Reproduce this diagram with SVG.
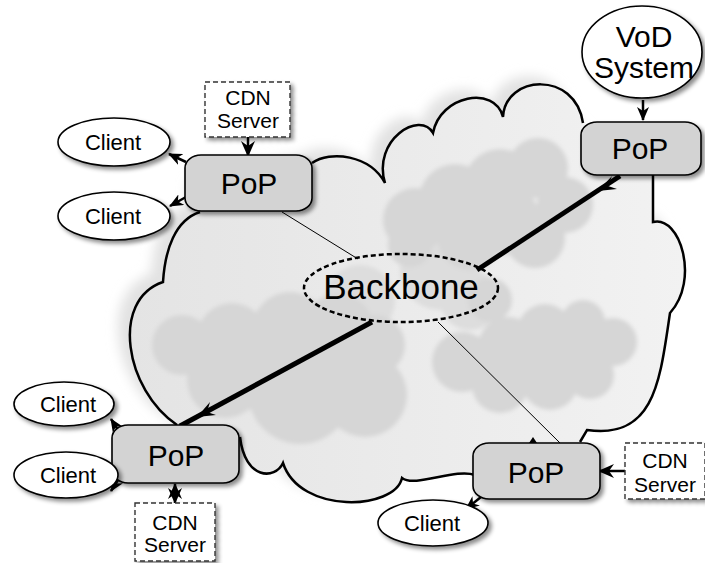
<svg xmlns="http://www.w3.org/2000/svg" width="705" height="563" viewBox="0 0 705 563">
<style>
text{font-family:"Liberation Sans",Arial,sans-serif;fill:#000;text-anchor:middle}
.pop{fill:#d3d3d3;stroke:#000;stroke-width:1.6}
.cli{fill:#fff;stroke:#000;stroke-width:1.6}
.cdn{fill:#fff;stroke:#333;stroke-width:1.4;stroke-dasharray:5 3}
.inner{fill:#d6d6d6}
.inner2{fill:#dddddd}
.thin{stroke:#000;stroke-width:1;fill:none}
.thick{stroke:#000;stroke-width:5;fill:none}
.arr{stroke:#000;stroke-width:2.5;fill:none}
</style>
<defs>
<linearGradient id="cg" x1="0" y1="0" x2="1" y2="0">
<stop offset="0" stop-color="#e4e4e4"/>
<stop offset="1" stop-color="#f2f2f2"/>
</linearGradient>
<filter id="sh" x="-20%" y="-20%" width="140%" height="150%">
<feDropShadow dx="3" dy="3" stdDeviation="2" flood-color="#000" flood-opacity="0.45"/>
</filter>
<filter id="blur" x="-10%" y="-10%" width="120%" height="120%">
<feGaussianBlur stdDeviation="2"/>
</filter>
<filter id="blur2" x="-10%" y="-10%" width="120%" height="120%">
<feGaussianBlur stdDeviation="6"/>
</filter>
<marker id="ah" viewBox="0 0 14 12" refX="13" refY="6" markerWidth="14" markerHeight="12" markerUnits="userSpaceOnUse" orient="auto-start-reverse">
<path d="M0,0 L14,6 L0,12 L4,6 z" fill="#000"/>
</marker>
<marker id="ahb" viewBox="0 0 16 14" refX="15" refY="7" markerWidth="16" markerHeight="14" markerUnits="userSpaceOnUse" orient="auto-start-reverse">
<path d="M0,0 L16,7 L0,14 L5,7 z" fill="#000"/>
</marker>
</defs>

<g id="cloud">
<path id="cloudShadow" d="M300,165 L312,163 C330,150 370,155 385,183 C372,140 420,110 433,133 C440,95 495,85 503,117 C505,75 575,70 583,123 L600,140 L653,175 L653,222 C680,215 700,280 670,313 C660,380 655,440 587,430 L580,442 L540,470 L475,475 C455,468 415,488 402,478 C395,510 300,515 283,463 C275,480 245,480 240,437 L200,440 L177,425 C125,390 110,300 163,282 C165,250 175,220 200,212 L200,190 Z" fill="#e2e2e2" filter="url(#blur2)" transform="translate(-12,-8)"/>
<path d="M300,165 L312,163 C330,150 370,155 385,183 C372,140 420,110 433,133 C440,95 495,85 503,117 C505,75 575,70 583,123 L600,140 L653,175 L653,222 C680,215 700,280 670,313 C660,380 655,440 587,430 L580,442 L540,470 L475,475 C455,468 415,488 402,478 C395,510 300,515 283,463 C275,480 245,480 240,437 L200,440 L177,425 C125,390 110,300 163,282 C165,250 175,220 200,212 L200,190 Z" fill="url(#cg)" stroke="none"/>
<g filter="url(#blur)">
<g class="inner2">
<circle cx="440" cy="270" r="40"/>
<circle cx="360" cy="300" r="35"/>
<circle cx="470" cy="300" r="30"/>
</g>
<g class="inner">
<circle cx="415" cy="220" r="32"/>
<circle cx="455" cy="200" r="36"/>
<circle cx="500" cy="185" r="36"/>
<circle cx="538" cy="168" r="30"/>
<circle cx="565" cy="205" r="28"/>
<circle cx="470" cy="238" r="32"/>
<circle cx="535" cy="238" r="30"/>
<circle cx="505" cy="220" r="35"/>
<circle cx="410" cy="245" r="22"/>
<circle cx="182" cy="345" r="30"/>
<circle cx="232" cy="338" r="35"/>
<circle cx="290" cy="330" r="38"/>
<circle cx="338" cy="330" r="36"/>
<circle cx="375" cy="345" r="30"/>
<circle cx="300" cy="392" r="52"/>
<circle cx="225" cy="380" r="38"/>
<circle cx="365" cy="395" r="42"/>
<circle cx="260" cy="370" r="40"/>
<circle cx="490" cy="300" r="22"/>
<circle cx="462" cy="362" r="30"/>
<circle cx="508" cy="347" r="30"/>
<circle cx="545" cy="332" r="28"/>
<circle cx="583" cy="322" r="22"/>
<circle cx="613" cy="342" r="24"/>
<circle cx="590" cy="375" r="24"/>
<circle cx="500" cy="385" r="28"/>
<circle cx="550" cy="382" r="28"/>
<circle cx="575" cy="352" r="28"/>
<circle cx="530" cy="365" r="30"/>
</g>
</g>
<path d="M312,163 C330,150 370,155 385,183 C372,140 420,110 433,133 C440,95 495,85 503,117 C505,75 575,70 583,123" fill="none" stroke="#000" stroke-width="2.5"/>
<path d="M653,175 L653,222 C680,215 700,280 670,313 C660,380 655,440 587,430 L580,442" fill="none" stroke="#000" stroke-width="2.5"/>
<path d="M475,475 C455,468 415,488 402,478 C395,510 300,515 283,463 C275,480 245,480 240,437" fill="none" stroke="#000" stroke-width="2.5"/>
<path d="M177,425 C125,390 110,300 163,282 C165,250 175,220 200,212" fill="none" stroke="#000" stroke-width="2.5"/>
</g>

<g id="connectors">
<line class="thin" x1="282" y1="212" x2="358" y2="259"/>
<line class="thin" x1="438" y1="322" x2="560" y2="443"/>
<line class="thick" x1="620" y1="176" x2="477" y2="270"/>
<path d="M598,191 L612,176 L608,186 L617,189 Z" fill="#000"/>
<line class="thick" x1="372" y1="322" x2="180" y2="426"/>
<path d="M197,417 L210,402 L207,412 L216,415 Z" fill="#000"/>
<line class="arr" x1="643" y1="100" x2="643" y2="120" marker-end="url(#ah)"/>
<line class="arr" x1="248" y1="137" x2="248" y2="156" marker-end="url(#ahb)" stroke-width="3"/>
<line class="arr" x1="175" y1="484" x2="175" y2="503" marker-start="url(#ahb)" marker-end="url(#ahb)" stroke-width="3"/>
<line class="arr" x1="625" y1="471" x2="599" y2="471" marker-end="url(#ahb)" stroke-width="3"/>
<line class="arr" x1="186" y1="162" x2="169" y2="154" marker-end="url(#ah)"/>
<line class="arr" x1="186" y1="197" x2="170" y2="206" marker-end="url(#ah)"/>
<line class="arr" x1="118" y1="430" x2="111" y2="419" marker-end="url(#ah)"/>
<line class="arr" x1="118" y1="480" x2="111" y2="491" marker-end="url(#ah)"/>
<line class="arr" x1="481" y1="497" x2="466" y2="509" marker-end="url(#ah)"/>
<path d="M529,443 L533,437 L537,443 Z" fill="#000"/>
</g>

<g id="backbone">
<ellipse cx="401" cy="288" rx="97" ry="34" fill="none" stroke="#000" stroke-width="2.5" stroke-dasharray="5 3"/>
<text x="401" y="299" font-size="35">Backbone</text>
</g>

<g id="vod">
<ellipse cx="642" cy="52" rx="60" ry="46" class="cli" filter="url(#sh)"/>
<text x="644" y="47" font-size="30">VoD</text>
<text x="644" y="78" font-size="30">System</text>
</g>

<g id="pop-tr">
<rect x="581" y="122" width="120" height="53" rx="16" ry="13" class="pop" filter="url(#sh)"/>
<text x="640" y="159" font-size="30">PoP</text>
</g>

<g id="pop-tl">
<rect x="185" y="155" width="127" height="56" rx="16" ry="13" class="pop" filter="url(#sh)"/>
<text x="249" y="194" font-size="30">PoP</text>
</g>

<g id="pop-bl">
<rect x="112" y="425" width="127" height="58" rx="16" ry="13" class="pop" filter="url(#sh)"/>
<text x="176" y="466" font-size="30">PoP</text>
</g>

<g id="pop-br">
<rect x="473" y="443" width="127" height="56" rx="16" ry="13" class="pop" filter="url(#sh)"/>
<text x="536" y="483" font-size="30">PoP</text>
</g>

<g id="cdn-top">
<rect x="205" y="82" width="85" height="55" class="cdn" filter="url(#sh)"/>
<text x="248" y="105" font-size="21">CDN</text>
<text x="248" y="128" font-size="21">Server</text>
</g>

<g id="cdn-bl">
<rect x="135" y="503" width="80" height="58" class="cdn" filter="url(#sh)"/>
<text x="175" y="530" font-size="21">CDN</text>
<text x="175" y="552" font-size="21">Server</text>
</g>

<g id="cdn-br">
<rect x="625" y="443" width="80" height="56" class="cdn" filter="url(#sh)"/>
<text x="665" y="468" font-size="21">CDN</text>
<text x="665" y="492" font-size="21">Server</text>
</g>

<g id="client-1">
<ellipse cx="114" cy="142" rx="56" ry="24" class="cli" filter="url(#sh)"/>
<text x="113" y="150" font-size="22">Client</text>
</g>
<g id="client-2">
<ellipse cx="114" cy="216" rx="56" ry="24" class="cli" filter="url(#sh)"/>
<text x="113" y="224" font-size="22">Client</text>
</g>
<g id="client-3">
<ellipse cx="64" cy="404" rx="50" ry="22" class="cli" filter="url(#sh)"/>
<text x="68" y="412" font-size="22">Client</text>
</g>
<g id="client-4">
<ellipse cx="66" cy="475" rx="52" ry="23" class="cli" filter="url(#sh)"/>
<text x="68" y="483" font-size="22">Client</text>
</g>
<g id="client-5">
<ellipse cx="433" cy="523" rx="55" ry="23" class="cli" filter="url(#sh)"/>
<text x="432" y="531" font-size="22">Client</text>
</g>
</svg>
